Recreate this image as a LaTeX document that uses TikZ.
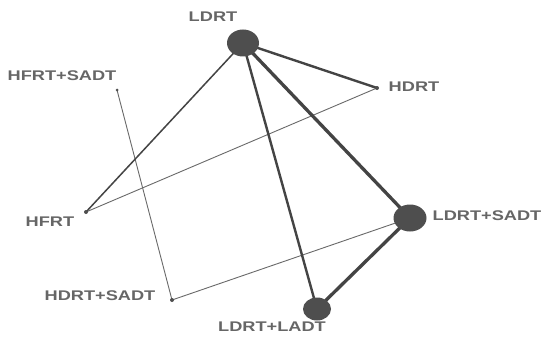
\documentclass[tikz,border=0pt]{standalone}
\usepackage{fontspec}
\setmainfont{Liberation Sans}
\usepackage{graphicx}
\definecolor{txt}{HTML}{666666}
\definecolor{ln}{HTML}{444444}
\definecolor{nd}{HTML}{4E4E4E}
\newcommand{\lbl}[1]{\scalebox{1.3}[1]{\fontsize{14}{14}\selectfont\bfseries #1}}
\tikzset{
  big/.style={ellipse, fill=nd, inner sep=0pt},
  dot/.style={circle, fill=nd, inner sep=0pt, minimum size=4pt},
  lab/.style={text=txt, inner sep=0pt},
  e1/.style={draw=ln!80, line width=0.9pt},
  e2/.style={draw=ln, line width=1.5pt},
  e3/.style={draw=ln, line width=2.4pt},
  e4/.style={draw=ln, line width=3.3pt},
}
\usetikzlibrary{shapes.geometric}
\begin{document}
\begin{tikzpicture}[x=1pt,y=-1pt]
\useasboundingbox[fill=white] (0,0) rectangle (543,337);
% edges first
\coordinate (cLDRT) at (243,43);
\coordinate (cHDRT) at (377,88);
\coordinate (cHFS) at (117,90);
\coordinate (cHFRT) at (86,212);
\coordinate (cLS) at (410,218);
\coordinate (cHDS) at (172,300);
\coordinate (cLL) at (317,309);
\draw[e1] (cHDRT) -- (cHFRT);
\draw[e1] (cHFS) -- (cHDS);
\draw[e1] (cHDS) -- (cLS);
\draw[e2] (cLDRT) -- (cHFRT);
\draw[e3] (cLDRT) -- (cHDRT);
\draw[e3] (cLDRT) -- (cLL);
\draw[e4] (cLDRT) -- (cLS);
\draw[e4] (cLS) -- (cLL);
% nodes
\node[big, minimum width=32pt, minimum height=27pt] (LDRT) at (cLDRT) {};
\node[dot] (HDRT) at (cHDRT) {};
\node[dot, minimum size=3pt] (HFS) at (cHFS) {};
\node[dot] (HFRT) at (cHFRT) {};
\node[big, minimum width=33pt, minimum height=27pt] (LS) at (cLS) {};
\node[dot] (HDS) at (cHDS) {};
\node[big, minimum width=28pt, minimum height=23pt] (LL) at (cLL) {};
% labels
\node[lab] (tLDRT) at (213,17) {\lbl{LDRT}};
\node[lab] (tHDRT) at (414,87) {\lbl{HDRT}};
\node[lab] (tHFS) at (62,76) {\lbl{HFRT+SADT}};
\node[lab] (tHFRT) at (50,222) {\lbl{HFRT}};
\node[lab] (tLS) at (487,216) {\lbl{LDRT+SADT}};
\node[lab] (tHDS) at (100,296) {\lbl{HDRT+SADT}};
\node[lab] (tLL) at (272,327) {\lbl{LDRT+LADT}};
\end{tikzpicture}
\end{document}
